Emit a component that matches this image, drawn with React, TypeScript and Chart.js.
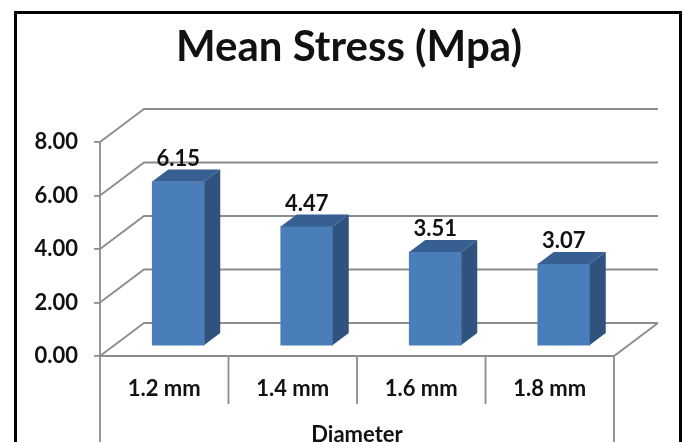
import { useEffect, useRef } from "react";
import { Chart, registerables } from "chart.js";

Chart.register(...registerables);

const categories = ["1.2 mm", "1.4 mm", "1.6 mm", "1.8 mm"];
const meanStress = [6.15, 4.47, 3.51, 3.07];
const yTicks = [0, 2, 4, 6, 8];

const FONT = "Lato, Carlito, sans-serif";
const GRID = "#8c8c8c";
const WALL_DX = 44;
const WALL_DY = -33;
const BAR_DX = 14;
const BAR_DY = -10;
const DEPTH_DX = 16;
const DEPTH_DY = -12;

const scene = {
  id: "scene",
  beforeDraw(chart: any) {
    const { ctx, width, height } = chart;
    ctx.save();
    ctx.fillStyle = "#ffffff";
    ctx.fillRect(0, 0, width, height);
    ctx.strokeStyle = "#000000";
    ctx.lineWidth = 3;
    ctx.beginPath();
    ctx.moveTo(15.5, height);
    ctx.lineTo(15.5, 12.5);
    ctx.lineTo(680.5, 12.5);
    ctx.lineTo(680.5, height);
    ctx.stroke();
    ctx.restore();
  },
  beforeDatasetsDraw(chart: any) {
    const { ctx, scales, height } = chart;
    const x = scales.x;
    const y = scales.y;
    const step = (x.right - x.left) / categories.length;
    ctx.save();
    ctx.strokeStyle = GRID;
    ctx.lineWidth = 1.8;
    ctx.beginPath();
    yTicks.forEach((v) => {
      const py = y.getPixelForValue(v);
      ctx.moveTo(x.left, py);
      ctx.lineTo(x.left + WALL_DX, py + WALL_DY);
      ctx.lineTo(x.right + WALL_DX, py + WALL_DY);
    });
    // floor front edge and right diagonal
    const y0 = y.getPixelForValue(0);
    ctx.moveTo(x.left, y0);
    ctx.lineTo(x.right, y0);
    ctx.lineTo(x.right + WALL_DX, y0 + WALL_DY);
    // outer verticals
    ctx.moveTo(x.left, y.getPixelForValue(8));
    ctx.lineTo(x.left, height);
    ctx.moveTo(x.right, y0);
    ctx.lineTo(x.right, height);
    // category dividers
    for (let i = 1; i < categories.length; i++) {
      ctx.moveTo(x.left + i * step, y0);
      ctx.lineTo(x.left + i * step, y0 + 48);
    }
    ctx.stroke();
    ctx.restore();
    ctx.save();
    ctx.translate(BAR_DX, BAR_DY);
  },
  afterDatasetsDraw(chart: any) {
    const { ctx } = chart;
    ctx.restore();
    const bars = chart.getDatasetMeta(0).data;
    ctx.save();
    bars.forEach((bar: any, i: number) => {
      const p = bar.getProps(["x", "y", "base", "width"], true);
      const l = p.x - p.width / 2 + BAR_DX;
      const r = p.x + p.width / 2 + BAR_DX;
      const t = p.y + BAR_DY;
      const b = p.base + BAR_DY;
      ctx.fillStyle = "#375f92";
      ctx.beginPath();
      ctx.moveTo(l, t);
      ctx.lineTo(l + DEPTH_DX, t + DEPTH_DY);
      ctx.lineTo(r + DEPTH_DX, t + DEPTH_DY);
      ctx.lineTo(r, t);
      ctx.closePath();
      ctx.fill();
      ctx.fillStyle = "#30527f";
      ctx.beginPath();
      ctx.moveTo(r, t);
      ctx.lineTo(r + DEPTH_DX, t + DEPTH_DY);
      ctx.lineTo(r + DEPTH_DX, b + DEPTH_DY);
      ctx.lineTo(r, b);
      ctx.closePath();
      ctx.fill();
      ctx.fillStyle = "#111111";
      ctx.font = `bold 22px ${FONT}`;
      ctx.textAlign = "center";
      ctx.textBaseline = "middle";
      ctx.fillText(meanStress[i].toFixed(2), (l + r) / 2, t + DEPTH_DY - 11);
    });
    ctx.restore();
  },
};

export default function App() {
  const ref = useRef<HTMLCanvasElement>(null);
  useEffect(() => {
    const chart = new Chart(ref.current as HTMLCanvasElement, {
      type: "bar",
      data: {
        labels: categories,
        datasets: [
          {
            label: "Mean Stress (Mpa)",
            data: meanStress,
            backgroundColor: "#4a7ebb",
            barThickness: 52,
          },
        ],
      },
      plugins: [scene],
      options: {
        animation: false,
        responsive: false,
        layout: { padding: { left: 13, right: 0, top: 0, bottom: 0 } },
        plugins: {
          legend: { display: false },
          tooltip: { enabled: false },
          title: {
            display: true,
            text: "Mean Stress (Mpa)",
            color: "#111111",
            font: { family: FONT, size: 42, weight: "bold", lineHeight: 1.2 },
            padding: { top: 21.8, bottom: 69.8 },
          },
        },
        scales: {
          x: {
            grid: { display: false, drawTicks: false },
            border: { display: false },
            afterFit(s: any) {
              s.height = 86;
            },
            ticks: {
              color: "#111111",
              padding: 20,
              maxRotation: 0,
              font: { family: FONT, size: 22, weight: "bold" },
            },
            title: {
              display: true,
              text: "Diameter",
              color: "#111111",
              padding: { top: 0, bottom: -4 },
              font: { family: FONT, size: 22, weight: "bold", lineHeight: 1 },
            },
          },
          y: {
            min: 0,
            max: 8,
            afterFit(s: any) {
              s.width = 87;
            },
            grid: { drawOnChartArea: false, tickLength: 6, color: GRID, lineWidth: 1.8 },
            border: { display: false },
            ticks: {
              stepSize: 2,
              color: "#111111",
              padding: 16,
              font: { family: FONT, size: 22, weight: "bold" },
              callback: (v: any) => Number(v).toFixed(2),
            },
          },
          depthSpacer: {
            type: "linear",
            position: "right",
            min: 0,
            max: 1,
            afterFit(s: any) {
              s.width = 71;
            },
            grid: { display: false, drawTicks: false },
            border: { display: false },
            ticks: { display: false },
          },
        },
      },
    } as any);
    return () => chart.destroy();
  }, []);
  return (
    <div style={{ position: "fixed", left: 0, top: 0, width: 685, height: 442 }}>
      <canvas ref={ref} width={685} height={442} style={{ display: "block", filter: "blur(0.5px)" }} />
    </div>
  );
}
